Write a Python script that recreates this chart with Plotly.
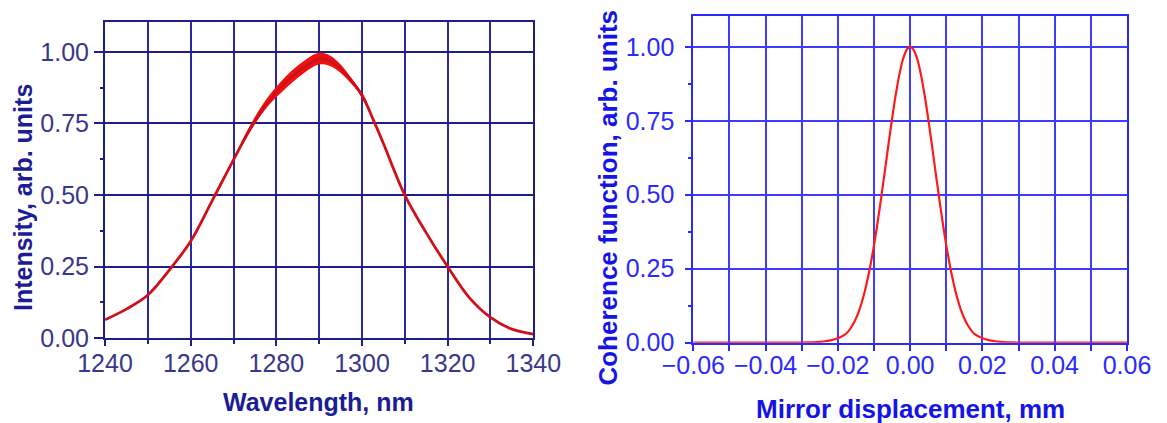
import plotly.graph_objects as go

# Emission spectrum of the source (normalised intensity vs wavelength, nm)
wavelength_nm = [1240, 1245, 1250, 1255, 1260, 1265, 1270, 1275, 1280, 1283, 1286,
                 1288, 1290, 1292, 1294, 1296, 1298, 1300, 1303, 1305, 1310, 1315,
                 1320, 1325, 1330, 1335, 1340]
intensity = [0.065, 0.102, 0.151, 0.238, 0.339, 0.48, 0.623, 0.76, 0.86, 0.905, 0.942,
             0.962, 0.975, 0.972, 0.955, 0.925, 0.89, 0.849, 0.75, 0.68, 0.50, 0.368,
             0.25, 0.143, 0.073, 0.032, 0.015]

# Noise envelope of the measured spectrum around the peak
noise_nm = [1272, 1275, 1278, 1281, 1284, 1287, 1289, 1291, 1293, 1295, 1297, 1299, 1301]
noise_hi = [0.684, 0.768, 0.837, 0.891, 0.936, 0.971, 0.990, 0.993, 0.980, 0.952, 0.915, 0.874, 0.822]
noise_lo = [0.676, 0.752, 0.813, 0.859, 0.900, 0.935, 0.954, 0.959, 0.950, 0.930, 0.901, 0.866, 0.818]

# Coherence function vs mirror displacement, mm
displacement_mm = [-0.06, -0.04, -0.03, -0.028, -0.026, -0.024, -0.022, -0.020, -0.019, -0.018,
                   -0.017, -0.016, -0.015, -0.014, -0.013, -0.012, -0.011, -0.010, -0.009,
                   -0.008, -0.007, -0.006, -0.005, -0.004, -0.003, -0.002, -0.001, 0.0,
                   0.001, 0.002, 0.003, 0.004, 0.005, 0.006, 0.007, 0.008, 0.009, 0.010,
                   0.011, 0.012, 0.013, 0.014, 0.015, 0.016, 0.017, 0.018, 0.019, 0.020,
                   0.022, 0.024, 0.026, 0.028, 0.03, 0.04, 0.06]
coherence = [0.0, 0.0, 0.0005, 0.001, 0.002, 0.004, 0.008, 0.015, 0.021, 0.028,
             0.040, 0.058, 0.082, 0.113, 0.153, 0.202, 0.261, 0.329, 0.407,
             0.491, 0.580, 0.670, 0.757, 0.837, 0.905, 0.957, 0.989, 1.0,
             0.989, 0.957, 0.905, 0.837, 0.757, 0.670, 0.580, 0.491, 0.407, 0.329,
             0.261, 0.202, 0.153, 0.113, 0.082, 0.058, 0.040, 0.028, 0.021, 0.015,
             0.008, 0.004, 0.002, 0.001, 0.0005, 0.0, 0.0]

y_ticks = [0, 0.25, 0.5, 0.75, 1.0]

NAVY = "#1e1e82"
NAVY_GRID = "#2a2aa2"
NAVY_TEXT = "#38388a"
BLUE = "#2a2aff"
BLUE_GRID = "#3c3cff"
FONT = "Liberation Sans, Arial, sans-serif"

fig = go.Figure()

# noisy band near the peak of the spectrum
fig.add_trace(go.Scatter(
    x=noise_nm + noise_nm[::-1],
    y=noise_hi + noise_lo[::-1],
    fill="toself", fillcolor="#ee1212",
    line=dict(color="#ee1212", width=1.5, shape="spline"),
    mode="lines", hoverinfo="skip", showlegend=False,
    xaxis="x", yaxis="y",
))
fig.add_trace(go.Scatter(
    x=wavelength_nm, y=intensity, mode="lines",
    line=dict(color="#d01018", width=2.8, shape="spline", smoothing=1.0),
    showlegend=False, xaxis="x", yaxis="y",
))
fig.add_trace(go.Scatter(
    x=displacement_mm, y=coherence, mode="lines",
    line=dict(color="#ff1a1a", width=2.2, shape="spline", smoothing=0.8),
    showlegend=False, xaxis="x2", yaxis="y2",
))

fig.update_layout(
    width=1167, height=423,
    margin=dict(l=0, r=0, t=0, b=0, autoexpand=False),
    paper_bgcolor="white", plot_bgcolor="white",
    font=dict(family=FONT),
    xaxis=dict(
        domain=[0.0900, 0.4570], range=[1240, 1340], anchor="y", automargin=False,
        tick0=1240, dtick=20, ticks="outside", ticklen=6, tickwidth=2, tickcolor=NAVY,
        showgrid=True, gridcolor=NAVY_GRID, gridwidth=2, zeroline=False,
        showline=True, linecolor=NAVY, linewidth=2, mirror=True,
        minor=dict(dtick=10, tick0=1240, showgrid=True, gridcolor=NAVY_GRID, gridwidth=2,
                   ticks="outside", ticklen=4, tickwidth=2, tickcolor=NAVY),
        tickfont=dict(size=25, color=NAVY_TEXT),
        ticklabelstandoff=-4,
    ),
    yaxis=dict(
        domain=[0.2002, 0.9487], range=[0, 1.105], anchor="x", automargin=False,
        tickvals=y_ticks, tickformat=".2f",
        ticks="outside", ticklen=9, tickwidth=2, tickcolor=NAVY,
        showgrid=True, gridcolor=NAVY, gridwidth=2, zeroline=False,
        showline=True, linecolor=NAVY, linewidth=2, mirror=True,
        minor=dict(dtick=0.125, tick0=0, showgrid=False,
                   ticks="outside", ticklen=3, tickwidth=2, tickcolor=NAVY),
        tickfont=dict(size=25, color=NAVY_TEXT),
        ticklabelstandoff=0,
    ),
    xaxis2=dict(
        domain=[0.5941, 0.9657], range=[-0.06, 0.06], anchor="y2", automargin=False,
        tick0=-0.06, dtick=0.02, tickformat=".2f",
        ticks="outside", ticklen=6, tickwidth=2, tickcolor=BLUE,
        showgrid=True, gridcolor=BLUE_GRID, gridwidth=2, zeroline=False,
        showline=True, linecolor=BLUE, linewidth=2, mirror=True,
        minor=dict(dtick=0.01, tick0=-0.06, showgrid=True, gridcolor=BLUE_GRID, gridwidth=2,
                   ticks="outside", ticklen=6, tickwidth=2, tickcolor=BLUE),
        tickfont=dict(size=25, color=BLUE),
        ticklabelstandoff=-7,
    ),
    yaxis2=dict(
        domain=[0.1898, 0.9622], range=[0, 1.104], anchor="x2", automargin=False,
        tickvals=y_ticks, tickformat=".2f",
        ticks="outside", ticklen=6, tickwidth=2, tickcolor=BLUE,
        showgrid=True, gridcolor=BLUE_GRID, gridwidth=2, zeroline=False,
        showline=True, linecolor=BLUE, linewidth=2, mirror=True,
        minor=dict(dtick=0.125, tick0=0, showgrid=False,
                   ticks="outside", ticklen=3, tickwidth=2, tickcolor=BLUE),
        tickfont=dict(size=25, color=BLUE),
        ticklabelstandoff=6,
    ),
    annotations=[
        dict(text="<b>Wavelength, nm</b>", xref="paper", yref="paper",
             x=0.2725, y=0.0496, xanchor="center", yanchor="middle", showarrow=False,
             font=dict(size=25, color="#1c1c96")),
        dict(text="<b>Intensity, arb. units</b>", xref="paper", yref="paper",
             x=0.0193, y=0.5330, xanchor="center", yanchor="middle", showarrow=False,
             textangle=-90, font=dict(size=25, color="#1c1c96")),
        dict(text="<b>Mirror displacement, mm</b>", xref="paper", yref="paper",
             x=0.7798, y=0.0331, xanchor="center", yanchor="middle", showarrow=False,
             font=dict(size=26, color="#1414e6")),
        dict(text="<b>Coherence function, arb. units</b>", xref="paper", yref="paper",
             x=0.5206, y=0.5319, xanchor="center", yanchor="middle", showarrow=False,
             textangle=-90, font=dict(size=26, color="#1414e6")),
    ],
)

fig.write_html("out.html")
